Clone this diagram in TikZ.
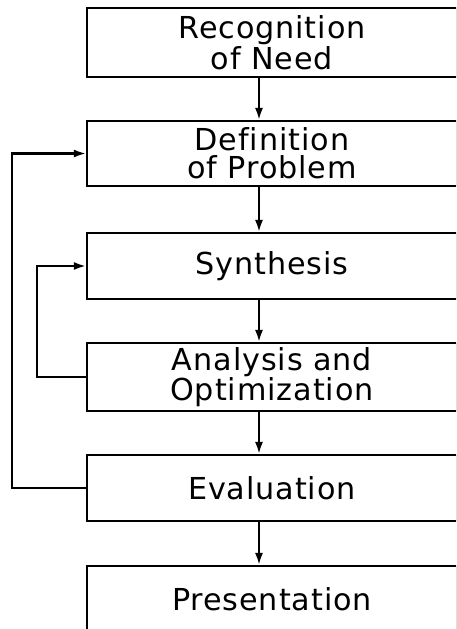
\documentclass[tikz,border=0pt]{standalone}
\usepackage{fontspec}
\setmainfont[LetterSpace=3,Ligatures=NoCommon]{DejaVu Sans}
\usetikzlibrary{arrows.meta}

\tikzset{
  stage/.style={draw, line width=1.5pt, minimum width=9.25cm, inner sep=0pt,
    align=center, font=\fontsize{21.5}{20}\selectfont},
  flow/.style={line width=1.5pt, -{Latex[length=3mm,width=2mm]}},
}

\begin{document}
\begin{tikzpicture}[x=0.025cm,y=-0.025cm]
  \useasboundingbox (0,0) rectangle (456,629);
  \clip (0,0) rectangle (456,629);

  % design stages
  \node[stage, minimum height=1.725cm] (need) at (272,42.5) {Recognition\\of Need};
  \node[stage, minimum height=1.625cm] (problem) at (272,153.5) {Definition\\of Problem};
  \node[stage, minimum height=1.65cm] (synthesis) at (272,266) {Synthesis};
  \node[stage, minimum height=1.7cm] (analysis) at (272,377) {Analysis and\\Optimization};
  \node[stage, minimum height=1.65cm] (evaluation) at (272,488) {Evaluation};
  \node[stage, minimum height=1.65cm] (presentation) at (272,599) {Presentation};

  \coordinate (axis) at (259,0);
  \coordinate (outer) at (12,0);
  \coordinate (inner) at (37,0);

  % main line
  \draw[flow] (need.south -| axis) -- (problem.north -| axis);
  \draw[flow] (problem.south -| axis) -- (synthesis.north -| axis);
  \draw[flow] (synthesis.south -| axis) -- (analysis.north -| axis);
  \draw[flow] (analysis.south -| axis) -- (evaluation.north -| axis);
  \draw[flow] (evaluation.south -| axis) -- (presentation.north -| axis);

  % feedback loops
  \draw[flow] (evaluation.west) -- (evaluation.west -| outer) -- (problem.west -| outer) -- (problem.west);
  \draw[flow] (analysis.west) -- (analysis.west -| inner) -- (synthesis.west -| inner) -- (synthesis.west);
\end{tikzpicture}
\end{document}
